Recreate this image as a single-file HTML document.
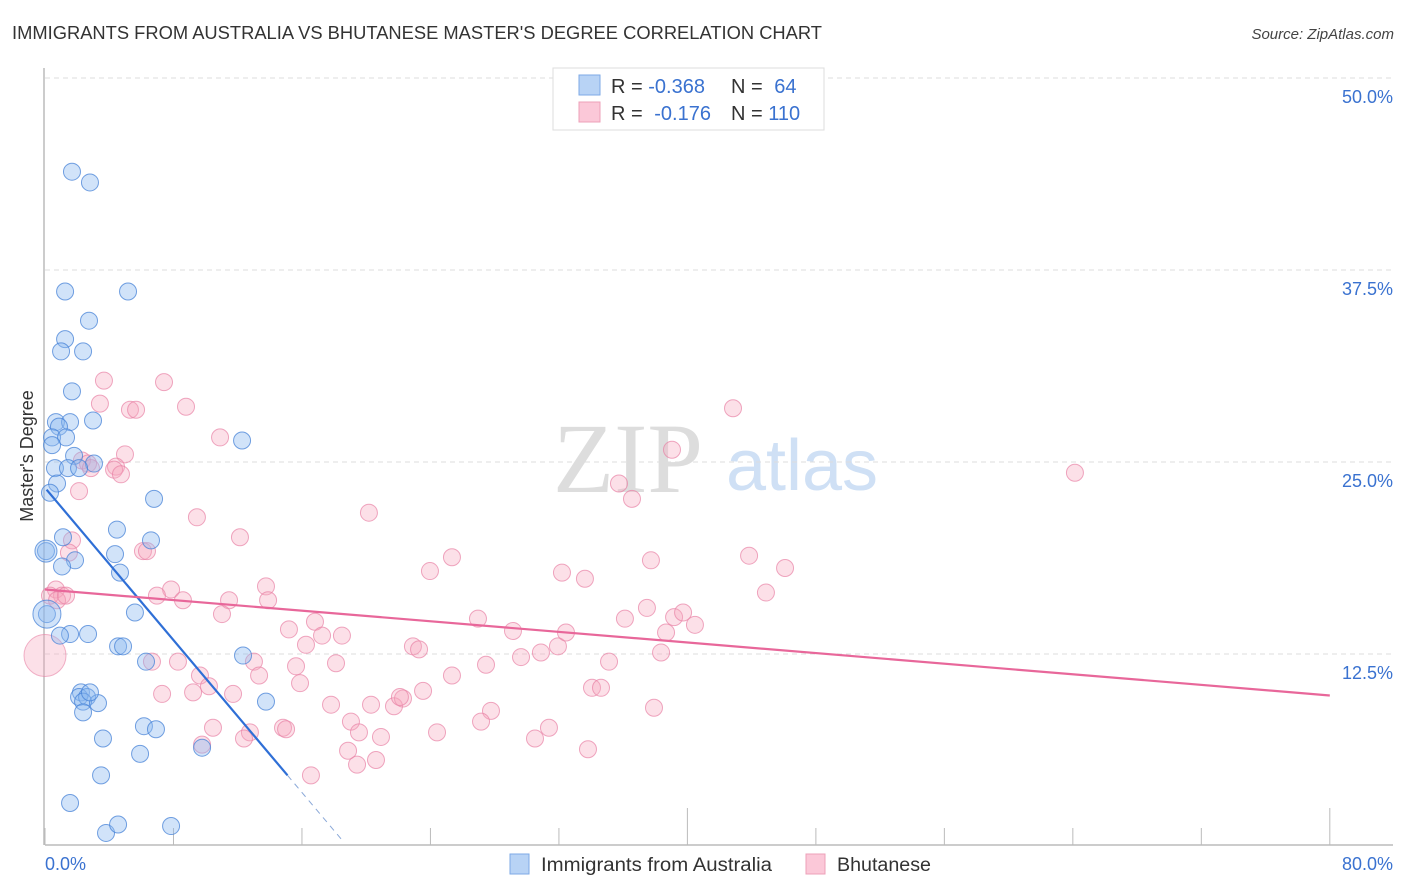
<!DOCTYPE html>
<html><head><meta charset="utf-8"><style>
body{margin:0;background:#fff;font-family:"Liberation Sans",sans-serif}
svg{display:block}
</style></head><body>
<svg id="chart" width="1406" height="892" xmlns="http://www.w3.org/2000/svg">
<text x="12" y="39" font-size="18" fill="#333" textLength="810" lengthAdjust="spacingAndGlyphs">IMMIGRANTS FROM AUSTRALIA VS BHUTANESE MASTER'S DEGREE CORRELATION CHART</text>
<text x="1394" y="39" font-size="15" fill="#444" text-anchor="end" font-style="italic">Source: ZipAtlas.com</text>
<g>
<text x="628" y="492" font-size="100" fill="#ddd" font-family="Liberation Serif,serif" text-anchor="middle">ZIP</text>
<text x="802" y="490" font-size="72" fill="#cfe0f5" text-anchor="middle">atlas</text>
</g>
<g id="grid"></g>
<g id="axes"></g>
<text transform="translate(33,456) rotate(-90)" font-size="18" fill="#333" text-anchor="middle">Master's Degree</text>
<g id="pinkPts"></g>
<g id="bluePts"></g>
<g id="lines"></g>
<g>
<rect x="553" y="68" width="271" height="62" fill="#fff" stroke="#ddd"/>
<rect x="579" y="75" width="21" height="20" fill="#b8d3f5" stroke="#7eaae6"/>
<rect x="579" y="102" width="21" height="20" fill="#fbc8d8" stroke="#eea0b8"/>
<text x="611" y="93" font-size="20" fill="#333">R = <tspan fill="#3a72d0">-0.368</tspan></text>
<text x="731" y="93" font-size="20" fill="#333">N = <tspan fill="#3a72d0" dx="6">64</tspan></text>
<text x="611" y="120" font-size="20" fill="#333">R = <tspan fill="#3a72d0" dx="6">-0.176</tspan></text>
<text x="731" y="120" font-size="20" fill="#333">N = <tspan fill="#3a72d0">110</tspan></text>
</g>
<g>
<rect x="510" y="854" width="19" height="20" fill="#b8d3f5" stroke="#7eaae6"/>
<text x="541" y="871" font-size="19" fill="#333" textLength="231" lengthAdjust="spacingAndGlyphs">Immigrants from Australia</text>
<rect x="806" y="854" width="19" height="20" fill="#fbc8d8" stroke="#eea0b8"/>
<text x="837" y="871" font-size="19" fill="#333" textLength="94" lengthAdjust="spacingAndGlyphs">Bhutanese</text>
</g>
</svg>
<script>
const blueX=[1.68,2.80,1.25,5.17,2.74,1.25,1.0,2.37,1.68,0.68,1.56,2.99,0.87,0.44,1.31,12.27,0.44,1.81,3.05,0.62,1.43,2.12,0.75,0.31,6.79,4.48,1.12,6.6,0.06,4.36,1.87,1.06,4.67,5.6,0.12,1.56,2.68,4.55,4.86,6.29,12.33,0.93,2.24,2.12,2.62,2.37,3.3,2.37,13.76,6.16,6.91,3.61,5.92,9.78,3.49,1.56,3.8,4.55,7.85,2.80];
const blueY=[43.9,43.2,36.1,36.1,34.2,33.0,32.2,32.2,29.6,27.6,27.6,27.7,27.3,26.6,26.6,26.4,26.1,25.4,24.9,24.6,24.6,24.6,23.6,23.0,22.6,20.6,20.1,19.9,19.2,19.0,18.6,18.2,17.8,15.2,15.1,13.8,13.8,13.0,13.0,12.0,12.4,13.7,10.0,9.7,9.7,9.4,9.3,8.7,9.4,7.8,7.6,7.0,6.0,6.4,4.6,2.8,0.85,1.4,1.3,10.0];
const pinkX=[3.67,7.41,3.42,5.29,5.67,8.78,10.9,4.98,2.30,2.68,4.42,2.86,4.30,4.73,2.12,9.46,12.14,1.68,1.49,6.10,6.35,0.68,1.06,0.31,0.75,1.31,7.85,6.97,8.59,11.46,13.76,13.89,11.02,15.19,16.81,17.25,18.49,16.25,9.65,8.28,6.66,7.29,9.22,11.71,13.01,15.63,18.12,15.88,13.33,10.21,10.46,12.76,12.39,14.82,15.01,9.78,17.81,19.05,19.55,18.87,19.43,20.61,16.56,20.30,21.73,22.29,22.1,20.92,23.54,22.91,23.29,24.41,25.34,20.17,23.97,25.34,26.96,27.46,27.77,27.15,29.14,29.64,30.51,30.88,31.38,31.94,32.44,32.19,33.62,34.06,34.62,33.81,35.12,35.74,36.55,36.11,37.48,37.73,37.92,38.36,38.67,39.17,39.73,40.47,39.04,42.84,43.84,44.89,46.08,64.13];
const pinkY=[30.3,30.2,28.8,28.4,28.4,28.6,26.6,25.5,25.1,24.9,24.7,24.6,24.5,24.2,23.1,21.4,20.1,19.9,19.1,19.2,19.2,16.7,16.3,16.3,16.0,16.3,16.7,16.3,16.0,16.0,16.9,16.0,15.1,14.1,14.6,13.7,13.7,13.1,11.1,12.0,12.0,9.9,10.0,9.9,12.0,11.7,11.9,10.6,11.1,10.4,7.7,7.4,7.0,7.7,7.6,6.6,9.2,8.1,7.4,6.2,5.3,5.6,4.6,9.2,9.1,9.6,9.7,7.1,10.1,13.0,12.8,7.4,11.1,21.7,17.9,18.8,14.8,11.8,8.8,8.1,14.0,12.3,7.0,12.6,7.7,13.0,13.9,17.8,17.4,10.3,10.3,6.3,12.0,23.6,22.6,14.8,15.5,18.6,9.0,12.6,13.9,14.9,15.2,14.4,25.8,28.5,18.9,16.5,18.1,24.3];
const bigPinkX=[0.0], bigPinkY=[12.4];
const bigBlueX=[0.12,0.06], bigBlueY=[15.1,19.2];
const yTicks=[12.5,25.0,37.5,50.0];
const yTickLabels=["12.5%","25.0%","37.5%","50.0%"];
const xTicks=[0,8,16,24,32,40,48,56,64,72,80];
const blueLine={x0:0.1,y0:23.2,x1:15.1,y1:4.6,xEnd:18.5};
const pinkLine={x0:0,y0:16.7,x1:80,y1:9.8};

const X=v=>45+v*16.06, Y=v=>846-v*15.36;
const NS="http://www.w3.org/2000/svg";
function mk(tag,attrs,parent){const e=document.createElementNS(NS,tag);for(const k in attrs)e.setAttribute(k,attrs[k]);parent.appendChild(e);return e;}
const grid=document.getElementById('grid'),axes=document.getElementById('axes');
yTicks.forEach((t,i)=>{
  const g=mk('line',{x1:45,x2:1393,y1:Y(t),y2:Y(t),stroke:'#ddd','stroke-dasharray':'5,4'},grid);
  
  
  const tx=mk('text',{x:1393,y:Y(t)+25,'font-size':18,fill:'#3a72d0','text-anchor':'end'},axes);
  tx.textContent=yTickLabels[i];
  
  
});
const ax=mk('line',{x1:45,x2:1393,y1:845,y2:845,stroke:'#bbb','stroke-width':1.5},axes);


const ay=mk('line',{x1:44,x2:44,y1:68,y2:845,stroke:'#bbb','stroke-width':1.5},axes);


xTicks.forEach((t,i)=>{
  const long=(i===5||i===10);
  const tk=mk('line',{x1:X(t),x2:X(t),y1:long?808:828,y2:845,stroke:'#bbb'},axes);
  
  
});
[[0,'0.0%','start',45],[80,'80.0%','end',1393]].forEach(a=>{
  const t=mk('text',{x:a[3],y:870,'font-size':18,fill:'#3a72d0','text-anchor':a[2]},axes);
  t.textContent=a[1];
  
  
});
const pp=document.getElementById('pinkPts'),bp=document.getElementById('bluePts');
pinkX.forEach((x,i)=>{
  const c=mk('circle',{cx:X(x),cy:Y(pinkY[i]),r:8.5,fill:'rgba(247,165,190,0.35)',stroke:'rgba(232,130,165,0.7)'},pp);
  
  
});
bigPinkX.forEach((x,i)=>{
  const c=mk('circle',{cx:X(x),cy:Y(bigPinkY[i]),r:21,fill:'rgba(247,165,190,0.35)',stroke:'rgba(232,130,165,0.6)'},pp);
  
  
});
blueX.forEach((x,i)=>{
  const c=mk('circle',{cx:X(x),cy:Y(blueY[i]),r:8.5,fill:'rgba(140,185,240,0.4)',stroke:'rgba(70,130,215,0.75)'},bp);
  
  
});
bigBlueX.forEach((x,i)=>{
  const c=mk('circle',{cx:X(x),cy:Y(bigBlueY[i]),r:i===0?14:11,fill:'rgba(140,185,240,0.4)',stroke:'rgba(70,130,215,0.75)'},bp);
  
  
});
const ln=document.getElementById('lines');
const s=(blueLine.y1-blueLine.y0)/(blueLine.x1-blueLine.x0);
const bl=mk('line',{x1:X(blueLine.x0),y1:Y(blueLine.y0),x2:X(blueLine.x1),y2:Y(blueLine.y1),stroke:'#2f6fd6','stroke-width':2.2},ln);


const bd=mk('line',{x1:X(blueLine.x1),y1:Y(blueLine.y1),x2:X(blueLine.xEnd),y2:Y(blueLine.y0+s*(blueLine.xEnd-blueLine.x0)),stroke:'#8aa8d8','stroke-width':1,'stroke-dasharray':'6,5'},ln);


const pl=mk('line',{x1:X(pinkLine.x0),y1:Y(pinkLine.y0),x2:X(pinkLine.x1),y2:Y(pinkLine.y1),stroke:'#e8679a','stroke-width':2.2},ln);


</script>
</body></html>
